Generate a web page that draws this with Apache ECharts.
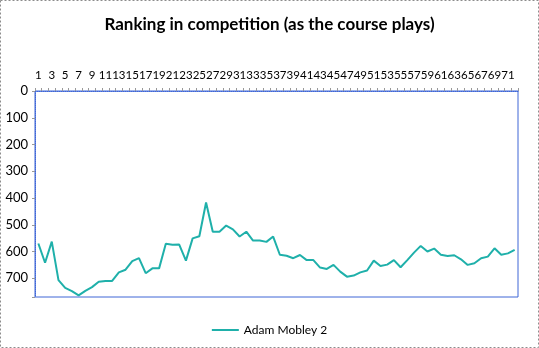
<!DOCTYPE html>
<html>
<head>
<meta charset="utf-8">
<script src="https://cdn.jsdelivr.net/npm/echarts@6/dist/echarts.min.js"></script>
<style>html,body{margin:0;padding:0;background:#fff}#c{width:539px;height:348px}</style>
</head>
<body>
<div id="c"></div>
<script>
const titleText = 'Ranking in competition (as the course plays)';
const seriesName = 'Adam Mobley 2';
const holes = [];
for (let i = 1; i <= 72; i++) holes.push(String(i));
const ranking = [570,642,563,707,736,748,764,747,733,713,710,710,678,668,636,625,681,663,663,571,
  575,574,634,551,543,417,526,526,503,517,544,526,559,559,564,544,612,616,625,613,
  632,632,660,665,650,675,694,690,678,671,634,654,649,632,659,632,604,579,600,589,
  612,617,614,629,650,644,625,619,588,612,607,594];
const yTicks = [0,100,200,300,400,500,600,700];
const yMin = 0, yMax = 770, yInterval = 100;

const chart = echarts.init(document.getElementById('c'), null, {renderer:'canvas'});
chart.setOption({
  animation: false,
  backgroundColor: '#fff',
  title: {
    text: titleText, left: 'center', top: 11,
    textStyle: {fontFamily: 'Lato', fontWeight: 'bold', fontSize: 17, color: '#000'}
  },
  graphic: [{
    type: 'rect', shape: {x: 0.5, y: 0.5, width: 538, height: 347},
    style: {fill: 'none', stroke: '#8c8c8c', lineWidth: 1, lineDash: [2, 2]}, silent: true
  }],
  legend: {
    data: [seriesName], left: 'center', top: 319,
    icon: 'rect', itemWidth: 27, itemHeight: 2,
    textStyle: {fontFamily: 'Lato', fontSize: 12, color: '#000'}
  },
  grid: {left: 35, right: 21, top: 91, bottom: 51, show: true, borderColor: '#3f66d6', borderWidth: 1},
  xAxis: {
    type: 'category', position: 'top', data: holes, boundaryGap: true,
    axisLine: {show: true, lineStyle: {color: '#3f66d6', type: 'dotted'}},
    axisTick: {show: true, inside: false, length: 3, interval: 0, lineStyle: {color: '#999'}},
    axisLabel: {interval: 1, margin: 10, fontFamily: 'Lato', fontSize: 11.5, color: '#000', hideOverlap: false}
  },
  yAxis: {
    type: 'value', inverse: true, min: yMin, max: yMax, interval: yInterval,
    axisLine: {show: true, lineStyle: {color: '#3f66d6', type: 'dotted'}},
    axisTick: {show: true, length: 3, lineStyle: {color: '#999'}},
    splitLine: {show: false},
    axisLabel: {
      margin: 7, fontFamily: 'Lato', fontSize: 13, color: '#000',
      formatter: v => yTicks.indexOf(v) >= 0 ? String(v) : ''
    }
  },
  series: [{
    name: seriesName, type: 'line', data: ranking, showSymbol: false, symbol: 'none',
    lineStyle: {color: '#1fb0aa', width: 2}, itemStyle: {color: '#1fb0aa'}
  }]
});
</script>
</body>
</html>
